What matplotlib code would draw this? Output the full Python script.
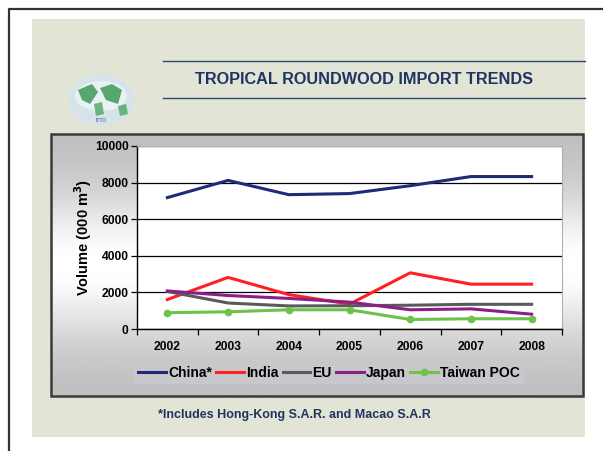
import numpy as np
import matplotlib.pyplot as plt
from matplotlib.patches import Rectangle, Ellipse, Polygon

plt.rcParams['font.family'] = ['Liberation Sans', 'DejaVu Sans']
plt.rcParams['font.weight'] = 'bold'

# datos (miles de m3)
years = ['2002', '2003', '2004', '2005', '2006', '2007', '2008']
china = [7180, 8120, 7340, 7400, 7830, 8330, 8330]
india = [1610, 2820, 1880, 1360, 3070, 2450, 2450]
eu = [2050, 1420, 1260, 1270, 1300, 1350, 1350]
japan = [2080, 1830, 1670, 1470, 1050, 1100, 810]
taiwan = [890, 940, 1050, 1050, 520, 560, 560]

W, H = 603, 451
fig = plt.figure(figsize=(W / 100, H / 100), dpi=100)
fig.patch.set_facecolor('white')

# capa de fondo en pixeles
bg = fig.add_axes([0, 0, 1, 1])
bg.set_xlim(0, W)
bg.set_ylim(H, 0)
bg.axis('off')

navy = '#1f3461'

# marco exterior
bg.plot([9, 9, W], [H, 9, 9], color='#333333', lw=1.6, solid_capstyle='butt')

# panel beige
bg.add_patch(Rectangle((32, 19), 553, 418, facecolor='#e2e4d5', edgecolor='none'))

# titulo
bg.plot([163, 585], [61, 61], color='#2e4570', lw=1.0)
bg.plot([163, 585], [98, 98], color='#2e4570', lw=1.0)
bg.text(364, 79, 'TROPICAL ROUNDWOOD IMPORT TRENDS', ha='center', va='center',
        fontsize=11.7, color=navy, fontweight='bold')

# logo (globo)
bg.add_patch(Ellipse((101, 100), 66, 52, facecolor='#d6e4ea', edgecolor='none'))
bg.add_patch(Ellipse((101, 96), 52, 30, facecolor='#e9f1f3', edgecolor='none'))
bg.add_patch(Polygon([[78, 90], [92, 84], [98, 92], [90, 104], [82, 100]],
                     facecolor='#3d9a55', edgecolor='none', alpha=0.85))
bg.add_patch(Polygon([[100, 88], [112, 84], [122, 90], [118, 104], [106, 100]],
                     facecolor='#3d9a55', edgecolor='none', alpha=0.85))
bg.add_patch(Polygon([[94, 104], [102, 102], [104, 114], [96, 116]],
                     facecolor='#4aa860', edgecolor='none', alpha=0.8))
bg.add_patch(Polygon([[118, 106], [126, 104], [128, 114], [120, 116]],
                     facecolor='#4aa860', edgecolor='none', alpha=0.8))
bg.text(101, 121, 'ITTO', ha='center', va='center', fontsize=3.5, color='#6a7f9a')

# recuadro gris con degradado
fx0, fx1, fy0, fy1 = 51, 583, 134, 396
t = np.linspace(0, 1, 200)
grad = 0.74 + 0.26 * np.exp(-((t - 0.5) / 0.28) ** 2)
grad = np.repeat(grad[:, None], 2, axis=1)
bg.imshow(grad, cmap='gray', vmin=0, vmax=1, extent=[fx0, fx1, fy1, fy0],
          aspect='auto', zorder=1)
bg.add_patch(Rectangle((fx0, fy0), fx1 - fx0, fy1 - fy0, facecolor='none',
                       edgecolor='#3a3a3a', lw=1.8, zorder=2))

# nota al pie
bg.text(294, 415, '*Includes Hong-Kong S.A.R. and Macao S.A.R', ha='center',
        va='center', fontsize=9, color=navy, fontweight='bold')

# grafico
ax = fig.add_axes([137 / W, 1 - 329 / H, (562 - 137) / W, (329 - 146) / H])
ax.set_facecolor('white')
x = np.arange(len(years))
ax.plot(x, china, color='#1f2a78', lw=2.2, label='China*')
ax.plot(x, india, color='#ff2020', lw=2.2, label='India')
ax.plot(x, eu, color='#5a5a5a', lw=2.2, label='EU')
ax.plot(x, japan, color='#8a1f8a', lw=2.2, label='Japan')
ax.plot(x, taiwan, color='#6cc24a', lw=2.2, marker='o', ms=4.5, label='Taiwan POC')

ax.set_xlim(-0.5, 6.5)
ax.set_ylim(0, 10000)
ax.set_yticks(range(0, 10001, 2000))
ax.set_yticklabels([str(v) for v in range(0, 10001, 2000)], fontsize=8.7)
ax.set_xticks(np.arange(-0.5, 7, 1))
ax.set_xticklabels([])
ax.set_xticks(x, minor=True)
ax.set_xticklabels(years, minor=True, fontsize=8.7)
ax.tick_params(axis='x', which='minor', length=0, pad=9)
ax.tick_params(axis='x', which='major', direction='out', length=4, width=0.9)
ax.tick_params(axis='y', direction='out', length=4, width=0.9, pad=2)
ax.grid(axis='y', color='black', lw=0.9)
ax.set_axisbelow(True)
for s in ['top', 'right']:
    ax.spines[s].set_color('#b0b0b0')
    ax.spines[s].set_linewidth(0.8)
ax.spines['left'].set_linewidth(1.0)
ax.spines['bottom'].set_linewidth(1.0)
ax.set_ylabel('Volume (000 m$^\\mathbf{3}$)', fontsize=10.5, fontweight='bold',
              labelpad=1)

leg = ax.legend(loc='center', bbox_to_anchor=(329 / W, 1 - 373 / H),
                bbox_transform=fig.transFigure, ncol=5, frameon=True,
                fontsize=10, handlelength=2.0, handletextpad=0.15,
                columnspacing=0.3, borderpad=0.3, borderaxespad=0,
                fancybox=False)
leg.get_frame().set_facecolor('#c7c7cc')
leg.get_frame().set_edgecolor('none')
leg.get_frame().set_alpha(1)

fig.savefig('out.png', dpi=100)
